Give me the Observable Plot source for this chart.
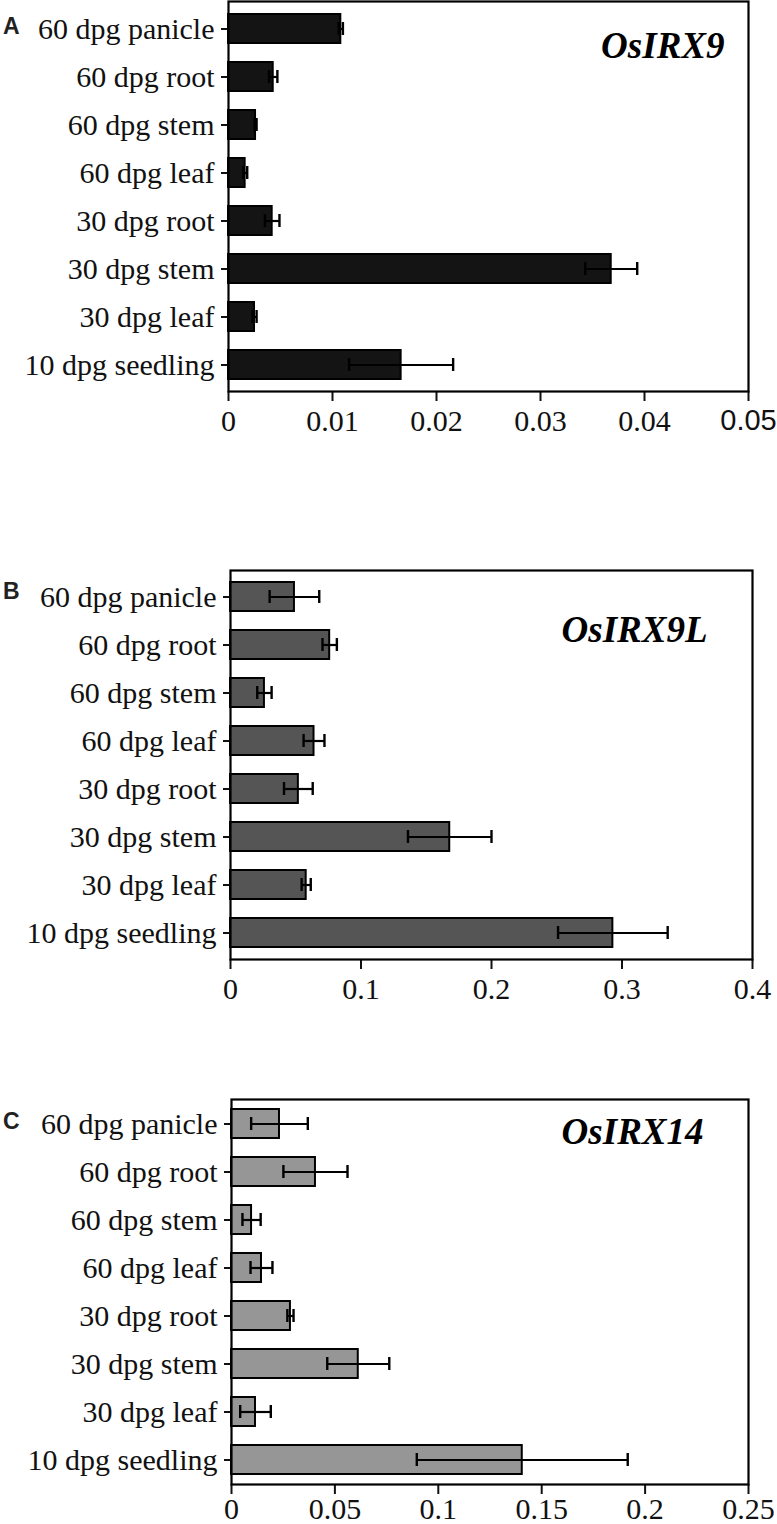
<!DOCTYPE html>
<html><head><meta charset="utf-8">
<script src="https://cdn.jsdelivr.net/npm/d3@7"></script>
<script src="https://cdn.jsdelivr.net/npm/@observablehq/plot@0.6"></script>
<style>
body{margin:0;background:#fff;}
#wrap{position:relative;width:777px;height:1524px;overflow:hidden;background:#fff;}
.panel{position:absolute;left:0;}
.letter{position:absolute;left:3px;font-family:"Liberation Sans",Arial,sans-serif;font-weight:bold;font-size:23px;color:#222;line-height:26px;}
</style></head><body><div id="wrap"></div>
<script>
// Categories (top to bottom)
const tissues = ["60 dpg panicle","60 dpg root","60 dpg stem","60 dpg leaf","30 dpg root","30 dpg stem","30 dpg leaf","10 dpg seedling"];

// Panel A: OsIRX9
const irx9Mean = [0.0108, 0.0043, 0.0026, 0.0016, 0.0042, 0.0368, 0.0025, 0.0166];
const irx9Err  = [0.0002, 0.0004, 0.0001, 0.0002, 0.0007, 0.0025, 0.0002, 0.0050];
const irx9Ticks = [0, 0.01, 0.02, 0.03, 0.04, 0.05];

// Panel B: OsIRX9L
const irx9lMean = [0.049, 0.076, 0.026, 0.064, 0.052, 0.168, 0.058, 0.293];
const irx9lErr  = [0.019, 0.0055, 0.0055, 0.008, 0.011, 0.032, 0.0035, 0.042];
const irx9lTicks = [0, 0.1, 0.2, 0.3, 0.4];

// Panel C: OsIRX14
const irx14Mean = [0.0232, 0.0406, 0.0097, 0.0145, 0.0285, 0.0613, 0.0116, 0.1406];
const irx14Err  = [0.0137, 0.0155, 0.0044, 0.0053, 0.0015, 0.0150, 0.0074, 0.0510];
const irx14Ticks = [0, 0.05, 0.1, 0.15, 0.2, 0.25];

const panels = [
  {letter:"A", gene:"OsIRX9", mean:irx9Mean, err:irx9Err, ticks:irx9Ticks, fill:"#141414",
   top:0, mt:1, area:390, mb:52, ml:228, mr:29, pad:8, letterTop:13, gdx:-24, gdy:45},
  {letter:"B", gene:"OsIRX9L", mean:irx9lMean, err:irx9lErr, ticks:irx9lTicks, fill:"#555555",
   top:560, mt:10, area:389, mb:50, ml:230, mr:25, pad:8, letterTop:578, gdx:-45, gdy:60},
  {letter:"C", gene:"OsIRX14", mean:irx14Mean, err:irx14Err, ticks:irx14Ticks, fill:"#969696",
   top:1080, mt:19, area:385, mb:40, ml:231, mr:29, pad:3, letterTop:1108, gdx:-45, gdy:33}
];

const wrap = document.getElementById("wrap");
const serif = '"Liberation Serif","Times New Roman",serif';
const sans = '"Liberation Sans",Arial,sans-serif';

panels.forEach((p, pi) => {
  const rows = tissues.map((t, i) => ({tissue: t, mean: p.mean[i], lo: p.mean[i] - p.err[i], hi: p.mean[i] + p.err[i]}));
  const chart = Plot.plot({
    width: 777,
    height: p.mt + p.area + p.mb,
    marginTop: p.mt, marginBottom: p.mb, marginLeft: p.ml, marginRight: p.mr,
    style: {fontFamily: serif, fontSize: "30px", color: "#111", background: "white"},
    x: {domain: [p.ticks[0], p.ticks[p.ticks.length - 1]]},
    y: {domain: tissues, paddingInner: 0.4, paddingOuter: 0.2},
    marks: [
      Plot.barX(rows, {y: "tissue", x: "mean", fill: p.fill, stroke: "black", strokeWidth: 2}),
      Plot.ruleY(rows, {y: "tissue", x1: "lo", x2: "hi", stroke: "black", strokeWidth: 2.2}),
      Plot.tickX(rows, {y: "tissue", x: "lo", stroke: "black", strokeWidth: 2.4, insetTop: 8, insetBottom: 8}),
      Plot.tickX(rows, {y: "tissue", x: "hi", stroke: "black", strokeWidth: 2.4, insetTop: 8, insetBottom: 8}),
      Plot.axisX({ticks: p.ticks, tickSize: 10, tickPadding: p.pad, strokeWidth: 2, label: null,
                  tickFormat: d => String(d)}),
      Plot.axisY({tickSize: 7, tickPadding: 7, strokeWidth: 2, label: null}),
      Plot.frame({stroke: "black", strokeWidth: 2.2}),
      Plot.text([p.gene], {text: d => d, frameAnchor: "top-right", textAnchor: "end", lineAnchor: "middle",
                 dx: p.gdx, dy: p.gdy,
                 fontSize: 37, fontWeight: "bold", fontStyle: "italic", fill: "black"})
    ]
  });
  chart.classList.add("panel");
  chart.style.top = p.top + "px";
  wrap.appendChild(chart);
  chart.querySelectorAll("text").forEach(t => {
    t.style.fontFamily = serif;
    t.style.fontVariant = "normal";
    if (pi === 0 && t.textContent === "0.05") {
      t.style.fontFamily = sans;
      t.style.fontSize = "29px";
    }
  });
  const lab = document.createElement("div");
  lab.className = "letter";
  lab.textContent = p.letter;
  lab.style.top = p.letterTop + "px";
  wrap.appendChild(lab);
});
</script>
</body></html>
